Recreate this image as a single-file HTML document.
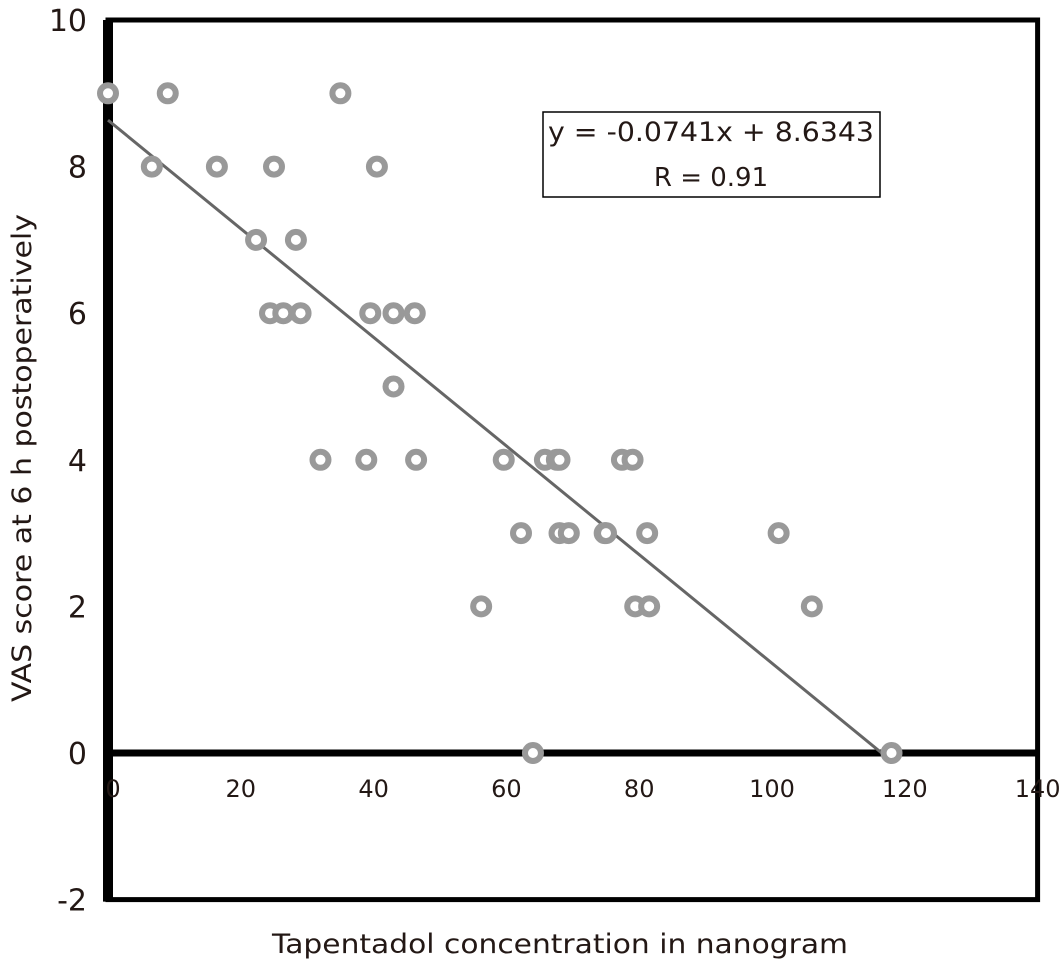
<!DOCTYPE html>
<html><head><meta charset="utf-8"><style>
body{margin:0;background:#fff}
svg text{font-family:"DejaVu Sans","Liberation Sans",sans-serif;fill:#231815}
</style></head><body>
<svg width="1061" height="968" id="c">
<rect x="0" y="0" width="1061" height="968" fill="#fff"/>
<g id="plot"></g>
<rect x="543" y="112" width="337" height="85" fill="#fff" stroke="#000" stroke-width="1.5"/>
<text x="711" y="141" font-size="27" text-anchor="middle" textLength="326" lengthAdjust="spacingAndGlyphs">y = -0.0741x + 8.6343</text>
<text x="711" y="186" font-size="26" text-anchor="middle">R = 0.91</text>
<text x="560" y="953" font-size="27" text-anchor="middle" textLength="576" lengthAdjust="spacingAndGlyphs">Tapentadol concentration in nanogram</text>
<text transform="translate(31,458) rotate(-90)" font-size="27" text-anchor="middle" textLength="488" lengthAdjust="spacingAndGlyphs">VAS score at 6 h postoperatively</text>
</svg>
<script>
const xVals=[0,9,35,6.6,16.4,25,40.5,22.3,28.3,24.4,26.4,29,39.5,43,46.2,43,32,38.9,46.4,59.6,65.8,67.6,68,77.4,79,62.2,68,69.4,74.8,75,81.2,101,56.2,79.4,81.5,106,64,118];
const yVals=[9,9,9,8,8,8,8,7,7,6,6,6,6,6,6,5,4,4,4,4,4,4,4,4,4,3,3,3,3,3,3,3,2,2,2,2,0,0];
const xTicks=[0,20,40,60,80,100,120,140];
const yTicks=[10,8,6,4,2,0,-2];
const slope=-0.0741, intercept=8.6343;
const NS="http://www.w3.org/2000/svg";
const X=v=>108+v*6.64, Y=v=>753-v*73.3;
const g=document.getElementById('plot');
function mk(t,a){const e=document.createElementNS(NS,t);for(const k in a)e.setAttribute(k,a[k]);g.appendChild(e);return e;}
let e;
e=mk('rect',{x:108,y:Y(10),width:X(140)-108,height:Y(-2)-Y(10),fill:'none',stroke:'#000','stroke-width':5});


e=mk('line',{x1:108,y1:Y(10),x2:108,y2:Y(-2)+2,stroke:'#000','stroke-width':10});


e=mk('line',{x1:108,y1:Y(0),x2:X(140),y2:Y(0),stroke:'#000','stroke-width':7});


yTicks.forEach(v=>{const t=mk('text',{x:87,y:Y(v)+11,'font-size':30,'text-anchor':'end'});t.textContent=v;

});
xTicks.forEach(v=>{const t=mk('text',{x:X(v)+(v===0?5:0),y:Y(0)+44,'font-size':24,'text-anchor':'middle'});t.textContent=v;

});
e=mk('line',{x1:X(0),y1:Y(intercept),x2:X(118),y2:Y(intercept+slope*118),stroke:'#666','stroke-width':3});


xVals.forEach((v,i)=>{const c=mk('circle',{cx:X(v),cy:Y(yVals[i]),r:8,fill:'#fff',stroke:'#999','stroke-width':6});

});
</script>
</body></html>
